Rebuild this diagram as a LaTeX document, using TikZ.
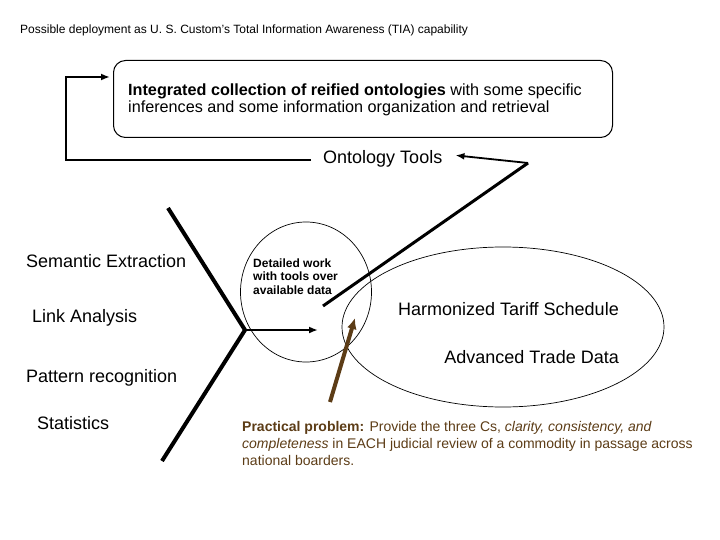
\documentclass[tikz,border=0pt]{standalone}
\usepackage{fontspec}
\setmainfont{Liberation Sans}
\usepackage{tikz}
\usetikzlibrary{arrows.meta,calc,positioning,shapes.geometric}
\definecolor{darkbrown}{RGB}{92,60,22}

\begin{document}
\begin{tikzpicture}[x=1pt,y=-1pt,
    txt/.style={anchor=base west,inner sep=0pt,align=left},
    big/.style={txt,font=\fontsize{18}{21}\selectfont},
    ring/.style={draw,ellipse,line width=0.7pt,inner sep=0pt}]
    \useasboundingbox (0,0) rectangle (720,540);
    % title
    \node[txt,font=\fontsize{12}{14}\selectfont] (title) at (20,34)
        {Possible deployment as U. S. Custom's Total Information Awareness (TIA) capability};
    % ontology store (multi-line nodes sit on their last baseline)
    \node[draw,line width=1pt,rounded corners=12pt,anchor=north west,
          minimum width=499pt,minimum height=77pt] (store) at (113,60) {};
    \node[txt,font=\fontsize{16.2}{17}\selectfont] (storetxt) at (128,113)
        {\textbf{Integrated collection of reified ontologies} with some specific\\
         inferences and some information organization and retrieval};
    \node[big] (tools) at (323,164) {Ontology Tools};
    % feedback to the store
    \coordinate (fbstart) at (311,160);
    \coordinate (fbcorner) at (66,77);
    \coordinate (fbend) at (110,77);
    \draw[line width=1.8pt,-{Latex[length=9pt,width=7pt]}] (fbstart) -| (fbcorner) -- (fbend);
    % tools line
    \coordinate (bend) at (528,163);
    \coordinate (dtail) at (323,306);
    \draw[line width=1.8pt,-{Latex[length=9pt,width=7pt]}] (bend) -- ($(tools.east)+(13,-4)$);
    \draw[line width=3pt] (bend) -- (dtail);
    % methods
    \node[big] (semantic) at (26,267) {Semantic Extraction};
    \node[big] (link) at (32,322) {Link Analysis};
    \node[big] (pattern) at (26,382) {Pattern recognition};
    \node[big] (stats) at (37,429) {Statistics};
    \coordinate (vtop) at (168,208);
    \coordinate (vjoin) at (245,330);
    \coordinate (vbot) at (162,461);
    \draw[line width=4pt] (vtop) -- (vjoin) -- (vbot);
    \draw[line width=2pt,-{Latex[length=9pt,width=7pt]}] (vjoin) -- (318,330);
    % work and data
    \node[ring,minimum width=131pt,minimum height=140pt] (work) at (306,292) {};
    \node[ring,minimum width=322pt,minimum height=160pt] (data) at (503,327) {};
    \node[txt,font=\fontsize{12}{13.5}\selectfont\bfseries] (worktxt) at (253,294)
        {Detailed work\\with tools over\\available data};
    \node[big,anchor=base east] (hts) at (619,315) {Harmonized Tariff Schedule};
    \node[big,anchor=base east] (atd) at (619,363) {Advanced Trade Data};
    % problem
    \coordinate (pstart) at (330,402);
    \coordinate (pend) at (355,318);
    \draw[darkbrown,line width=4pt,-{Latex[length=11pt,width=10pt]}] (pstart) -- (pend);
    \node[txt,text=darkbrown,font=\fontsize{14}{17}\selectfont] (problem) at (242,465)
        {\textbf{Practical problem:} Provide the three Cs, \textit{clarity, consistency, and}\\
         \textit{completeness} in EACH judicial review of a commodity in passage across\\
         national boarders.};
\end{tikzpicture}
\end{document}
